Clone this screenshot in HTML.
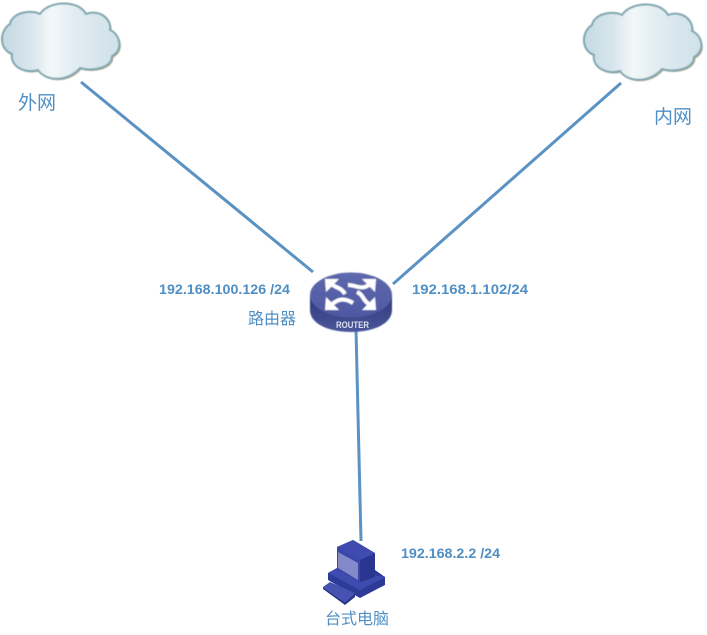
<!DOCTYPE html>
<html>
<head>
<meta charset="utf-8">
<style>
html,body{margin:0;padding:0;background:#fff;width:707px;height:635px;overflow:hidden}
svg{display:block}
.ip{font:bold 13.5px "Liberation Sans","DejaVu Sans",sans-serif;fill:#4f8fc4}
.cn{font:16px "Noto Sans CJK SC","WenQuanYi Zen Hei",sans-serif;fill:#4f8fc4}
.cb{font-size:19px}
</style>
</head>
<body>
<svg width="707" height="635" viewBox="0 0 707 635" xmlns="http://www.w3.org/2000/svg">
<defs>
<linearGradient id="cg" x1="0" y1="0" x2="1" y2="0">
<stop offset="0" stop-color="#c4d9e3"/>
<stop offset=".25" stop-color="#d8e6ec"/>
<stop offset=".42" stop-color="#f3f8fa"/>
<stop offset=".6" stop-color="#e2edf2"/>
<stop offset="1" stop-color="#cfe1e9"/>
</linearGradient>
<linearGradient id="rt" x1="0" y1="0" x2="0" y2="1">
<stop offset="0" stop-color="#5f69ad"/>
<stop offset="1" stop-color="#4d58a2"/>
</linearGradient>
<linearGradient id="rb" x1="0" y1="0" x2="0" y2="1">
<stop offset="0" stop-color="#2d3778"/>
<stop offset="1" stop-color="#4c579c"/>
</linearGradient>
<filter id="soft" x="-5%" y="-5%" width="110%" height="110%"><feGaussianBlur stdDeviation="0.5"/></filter>
<path id="cloud" d="M10 24 C12 13 30 9 40 14 C48 1 78 -1 86 14 C98 9 112 18 110 30 C120 34 124 50 112 56 C112 68 92 72 80 68 C68 82 46 82 38 70 C24 74 10 66 12 54 C0 50 -2 32 10 24Z"/>
</defs>

<g stroke="#5b92c4" stroke-width="3" fill="none">
<line x1="81" y1="82" x2="313" y2="272"/>
<line x1="621" y1="83" x2="393" y2="284"/>
<line x1="356" y1="330" x2="361" y2="541"/>
</g>

<g filter="url(#soft)">
<use href="#cloud" fill="#b9ae94" transform="translate(1.5,1.5)"/>
<use href="#cloud" fill="url(#cg)" stroke="#7fa6ae" stroke-width="2"/>
</g>
<g transform="translate(582,1)" filter="url(#soft)">
<use href="#cloud" fill="#b9ae94" transform="translate(1.5,1.5)"/>
<use href="#cloud" fill="url(#cg)" stroke="#7fa6ae" stroke-width="2"/>
</g>

<!-- router -->
<g filter="url(#soft)">
<path d="M310 295 L310 310 C310 324 329 332 351 332 C373 332 392 324 392 310 L392 295 Z" fill="url(#rb)"/>
<ellipse cx="351" cy="295" rx="41" ry="22.5" fill="url(#rt)"/>
<g fill="#fff">
<polygon points="325,279 339,279 335,283 330,288 326,292"/>
<polygon points="376,279 362,279 366,283 371,288 375,292"/>
<polygon points="325,310 339,310 335,306 330,301 326,297"/>
<polygon points="376,310 362,310 366,306 371,301 375,297"/>
</g>
<g fill="none" stroke="#fff" stroke-width="4">
<path d="M330 283 C337 289 341 287 345 294"/>
<path d="M370 284 C362 291 356 285 348 285"/>
<path d="M331 305 C339 298 345 298 353 303"/>
<path d="M370 305 C362 300 364 295 357 292"/>
</g>
</g>
<text x="336" y="328" textLength="33" lengthAdjust="spacingAndGlyphs" font-family="Liberation Sans,sans-serif" font-weight="bold" font-size="9" fill="#dfe2ee">ROUTER</text>

<!-- computer -->
<polygon points="328,573 337,568 375,570 385,577 385,585 360,598 328,580" fill="#2e3a98"/>
<polygon points="328,573 337,568 385,577 360,590" fill="#3f4bae"/>
<polygon points="337,547 353,540 375,553 375,577 360,582 337,570" fill="#3a46a8"/>
<polygon points="360,560 375,553 375,577 360,582" fill="#2a3590"/>
<polygon points="337,547 353,540 375,553 360,560" fill="#3f4bae"/>
<polygon points="338,552 358,563 358,580 338,568" fill="#8489c9"/>
<polygon points="323,587 330,582 355,593 345,602" fill="#4552b2"/>
<polygon points="345,602 355,593 355,597 345,605 323,589 323,587" fill="#2a3590"/>

<text class="ip" x="159" y="294" textLength="131" lengthAdjust="spacingAndGlyphs">192.168.100.126 /24</text>
<text class="ip" x="412" y="294" textLength="116" lengthAdjust="spacingAndGlyphs">192.168.1.102/24</text>
<text class="ip" x="401" y="558" textLength="99" lengthAdjust="spacingAndGlyphs">192.168.2.2 /24</text>
<text class="cn cb" x="18" y="109">外网</text>
<text class="cn cb" x="654" y="123">内网</text>
<text class="cn" x="248" y="324">路由器</text>
<text class="cn" x="325" y="624">台式电脑</text>
</svg>
</body>
</html>
